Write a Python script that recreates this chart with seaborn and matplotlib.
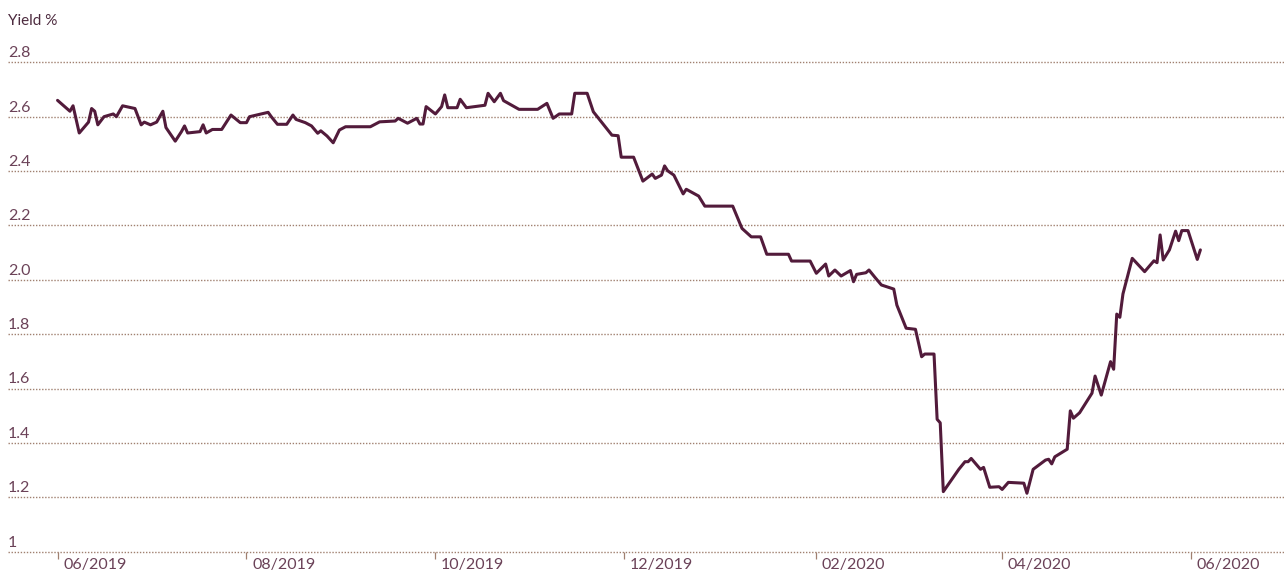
import pandas as pd
import seaborn as sns
import matplotlib.pyplot as plt
import matplotlib.dates as mdates
import matplotlib.transforms as mtransforms


dates = [
    "2019-06-01", "2019-06-05", "2019-06-06", "2019-06-08", "2019-06-11", "2019-06-12",
    "2019-06-13", "2019-06-14", "2019-06-16", "2019-06-19", "2019-06-20", "2019-06-22",
    "2019-06-26", "2019-06-28", "2019-06-29", "2019-07-01", "2019-07-03", "2019-07-05",
    "2019-07-06", "2019-07-09", "2019-07-11", "2019-07-12", "2019-07-13", "2019-07-17",
    "2019-07-18", "2019-07-19", "2019-07-21", "2019-07-24", "2019-07-27", "2019-07-30",
    "2019-08-01", "2019-08-02", "2019-08-08", "2019-08-09", "2019-08-11", "2019-08-14",
    "2019-08-16", "2019-08-17", "2019-08-20", "2019-08-22", "2019-08-24", "2019-08-25",
    "2019-08-27", "2019-08-29", "2019-08-31", "2019-09-02", "2019-09-10", "2019-09-13",
    "2019-09-18", "2019-09-19", "2019-09-22", "2019-09-25", "2019-09-26", "2019-09-27",
    "2019-09-28", "2019-10-01", "2019-10-03", "2019-10-04", "2019-10-05", "2019-10-08",
    "2019-10-09", "2019-10-11", "2019-10-17", "2019-10-18", "2019-10-20", "2019-10-22",
    "2019-10-23", "2019-10-28", "2019-11-03", "2019-11-06", "2019-11-08", "2019-11-10",
    "2019-11-14", "2019-11-15", "2019-11-19", "2019-11-21", "2019-11-27", "2019-11-29",
    "2019-11-30", "2019-12-04", "2019-12-07", "2019-12-10", "2019-12-11", "2019-12-13",
    "2019-12-14", "2019-12-15", "2019-12-17", "2019-12-20", "2019-12-21", "2019-12-25",
    "2019-12-27", "2020-01-05", "2020-01-08", "2020-01-11", "2020-01-14", "2020-01-16",
    "2020-01-23", "2020-01-24", "2020-01-30", "2020-02-01", "2020-02-04", "2020-02-05",
    "2020-02-07", "2020-02-09", "2020-02-12", "2020-02-13", "2020-02-14", "2020-02-17",
    "2020-02-18", "2020-02-20", "2020-02-22", "2020-02-26", "2020-02-27", "2020-03-01",
    "2020-03-04", "2020-03-06", "2020-03-07", "2020-03-10", "2020-03-11", "2020-03-12",
    "2020-03-13", "2020-03-18", "2020-03-20", "2020-03-21", "2020-03-22", "2020-03-25",
    "2020-03-26", "2020-03-28", "2020-03-31", "2020-04-01", "2020-04-03", "2020-04-08",
    "2020-04-09", "2020-04-11", "2020-04-15", "2020-04-16", "2020-04-17", "2020-04-18",
    "2020-04-22", "2020-04-23", "2020-04-24", "2020-04-26", "2020-04-30", "2020-05-01",
    "2020-05-03", "2020-05-06", "2020-05-07", "2020-05-08", "2020-05-09", "2020-05-10",
    "2020-05-13", "2020-05-17", "2020-05-20", "2020-05-21", "2020-05-22", "2020-05-23",
    "2020-05-25", "2020-05-27", "2020-05-28", "2020-05-29", "2020-05-31", "2020-06-03",
    "2020-06-04",
]

yields = [
    2.66, 2.62, 2.64, 2.54, 2.58, 2.63,
    2.62, 2.57, 2.60, 2.61, 2.60, 2.64,
    2.63, 2.57, 2.58, 2.57, 2.58, 2.62,
    2.56, 2.51, 2.545, 2.566, 2.54, 2.545,
    2.57, 2.54, 2.553, 2.553, 2.606, 2.578,
    2.578, 2.60, 2.616, 2.60, 2.572, 2.572,
    2.606, 2.59, 2.578, 2.566, 2.539, 2.548,
    2.529, 2.504, 2.551, 2.563, 2.563, 2.581,
    2.584, 2.594, 2.576, 2.594, 2.573, 2.573,
    2.637, 2.61, 2.637, 2.68, 2.633, 2.633,
    2.664, 2.633, 2.642, 2.686, 2.655, 2.686,
    2.659, 2.627, 2.627, 2.649, 2.594, 2.61,
    2.61, 2.686, 2.686, 2.618, 2.532, 2.53,
    2.451, 2.451, 2.363, 2.389, 2.373, 2.385,
    2.419, 2.401, 2.385, 2.316, 2.333, 2.308,
    2.271, 2.271, 2.189, 2.158, 2.158, 2.094,
    2.094, 2.069, 2.069, 2.024, 2.058, 2.014,
    2.036, 2.014, 2.034, 1.993, 2.02, 2.026,
    2.036, 2.008, 1.981, 1.966, 1.907, 1.822,
    1.818, 1.717, 1.727, 1.727, 1.487, 1.474,
    1.221, 1.303, 1.331, 1.331, 1.343, 1.303,
    1.31, 1.237, 1.239, 1.229, 1.255, 1.252,
    1.215, 1.303, 1.337, 1.34, 1.323, 1.349,
    1.377, 1.518, 1.491, 1.511, 1.583, 1.646,
    1.576, 1.699, 1.671, 1.874, 1.862, 1.948,
    2.079, 2.03, 2.07, 2.063, 2.165, 2.073,
    2.11, 2.179, 2.144, 2.181, 2.181, 2.075,
    2.11,
]

y_ticks = [1, 1.2, 1.4, 1.6, 1.8, 2.0, 2.2, 2.4, 2.6, 2.8]
y_labels = ["1", "1.2", "1.4", "1.6", "1.8", "2.0", "2.2", "2.4", "2.6", "2.8"]
x_ticks = ["2019-06-01", "2019-08-01", "2019-10-01", "2019-12-01",
           "2020-02-01", "2020-04-01", "2020-06-01"]
x_labels = ["06/2019", "08/2019", "10/2019", "12/2019", "02/2020", "04/2020", "06/2020"]

LINE_COLOR = "#521b3b"
TEXT_COLOR = "#6b4258"
GRID_COLOR = "#a08070"

sns.set_style("white")
plt.rcParams["font.family"] = ["Lato", "DejaVu Sans"]

df = pd.DataFrame({"date": pd.to_datetime(dates), "yield": yields})

fig = plt.figure(figsize=(12.84, 5.72), dpi=100)
ax = fig.add_axes([8 / 1284, 20.3 / 572, 1276 / 1284, 489.4 / 572])

sns.lineplot(data=df, x="date", y="yield", color=LINE_COLOR, linewidth=2.2, ax=ax)

ax.set_xlim(pd.Timestamp("2019-05-16"), pd.Timestamp("2020-07-01"))
ax.set_ylim(1, 2.8)
sns.despine(ax=ax, left=True, bottom=True, top=True, right=True)

# y labels sit just above their dotted gridlines, flush left
ylab_tf = mtransforms.offset_copy(
    mtransforms.blended_transform_factory(ax.transAxes, ax.transData),
    fig=fig, x=0, y=1.5, units="points")
for v, lab in zip(y_ticks, y_labels):
    ax.axhline(v, color=GRID_COLOR, linestyle=(0, (1, 1.2)), linewidth=1.0,
               clip_on=False, zorder=0)
    ax.text(0, v, lab, transform=ylab_tf, ha="left", va="bottom",
            fontsize=11.5, color=TEXT_COLOR)

ax.set_yticks([])
tick_dates = pd.to_datetime(x_ticks)
ax.set_xticks(mdates.date2num(tick_dates))
ax.set_xticklabels([])
ax.tick_params(axis="x", direction="out", length=5, width=0.9, color=GRID_COLOR,
               bottom=True, pad=0)

label_tf = mtransforms.offset_copy(
    mtransforms.blended_transform_factory(ax.transData, ax.transAxes),
    fig=fig, x=4, y=-4.5, units="points")
for d, lab in zip(tick_dates, x_labels):
    ax.text(mdates.date2num(d), 0, lab, transform=label_tf, ha="left", va="top",
            fontsize=11.5, color=TEXT_COLOR)

ax.set_xlabel("")
ax.set_ylabel("")
fig.text(8 / 1284, 1 - 21 / 572, "Yield %", ha="left", va="center",
         fontsize=11, color="#4d2b3f")

plt.savefig("out.png", dpi=100)
